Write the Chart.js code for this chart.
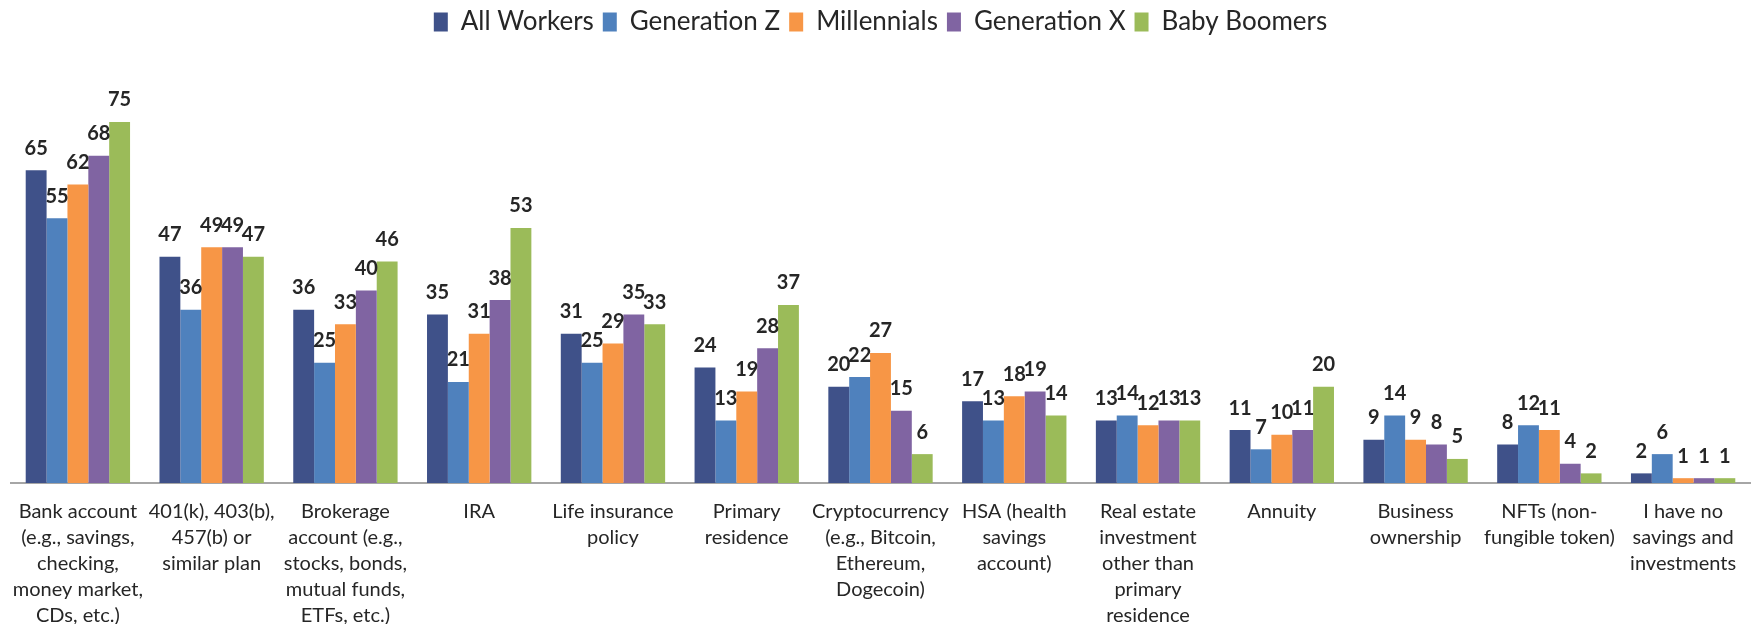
<!DOCTYPE html>
<html>
<head>
<meta charset="utf-8">
<script src="https://cdn.jsdelivr.net/npm/chart.js@4.4.1/dist/chart.umd.min.js"></script>
<style>
  html, body { margin: 0; padding: 0; background: #fff; }
  #wrap { width: 1754px; height: 624px; }
</style>
</head>
<body>
<div id="wrap"><canvas id="savingsChart"></canvas></div>
<script>
const categories = [
    ['Bank account', '(e.g., savings,', 'checking,', 'money market,', 'CDs, etc.)'],
    ['401(k), 403(b),', '457(b) or', 'similar plan'],
    ['Brokerage', 'account (e.g.,', 'stocks, bonds,', 'mutual funds,', 'ETFs, etc.)'],
    ['IRA'],
    ['Life insurance', 'policy'],
    ['Primary', 'residence'],
    ['Cryptocurrency', '(e.g., Bitcoin,', 'Ethereum,', 'Dogecoin)'],
    ['HSA (health', 'savings', 'account)'],
    ['Real estate', 'investment', 'other than', 'primary', 'residence'],
    ['Annuity'],
    ['Business', 'ownership'],
    ['NFTs (non-', 'fungible token)'],
    ['I have no', 'savings and', 'investments']
];

const allWorkers  = [65, 47, 36, 35, 31, 24, 20, 17, 13, 11, 9, 8, 2];
const generationZ = [55, 36, 25, 21, 25, 13, 22, 13, 14, 7, 14, 12, 6];
const millennials = [62, 49, 33, 31, 29, 19, 27, 18, 12, 10, 9, 11, 1];
const generationX = [68, 49, 40, 38, 35, 28, 15, 19, 13, 11, 8, 4, 1];
const babyBoomers = [75, 47, 46, 53, 33, 37, 6, 14, 13, 20, 5, 2, 1];

const FONT = 'Lato, "Open Sans", sans-serif';
const TEXT = '#262626';

// value labels above every bar
const barValues = {
    id: 'barValues',
    afterDatasetsDraw(chart) {
        const ctx = chart.ctx;
        ctx.save();
        ctx.font = 'bold 20px ' + FONT;
        ctx.fillStyle = TEXT;
        ctx.textAlign = 'center';
        ctx.textBaseline = 'middle';
        chart.data.datasets.forEach((ds, i) => {
            chart.getDatasetMeta(i).data.forEach((bar, j) => {
                ctx.fillText(ds.data[j], bar.x, bar.y - 22);
            });
        });
        ctx.restore();
    }
};

window.onload = function() {
    const ctx = document.getElementById('savingsChart').getContext('2d');
    new Chart(ctx, {
        type: 'bar',
        data: {
            labels: categories,
            datasets: [
                { label: 'All Workers',  data: allWorkers,  backgroundColor: '#3F5189' },
                { label: 'Generation Z', data: generationZ, backgroundColor: '#4F81BD' },
                { label: 'Millennials',  data: millennials, backgroundColor: '#F79646' },
                { label: 'Generation X', data: generationX, backgroundColor: '#8064A2' },
                { label: 'Baby Boomers', data: babyBoomers, backgroundColor: '#9BBB59' }
            ]
        },
        options: {
            responsive: true,
            maintainAspectRatio: false,
            animation: false,
            layout: { padding: { left: 11, right: 4, top: 0, bottom: 0 } },
            datasets: {
                bar: { categoryPercentage: 0.78, barPercentage: 1.0 }
            },
            plugins: {
                legend: {
                    position: 'top',
                    labels: {
                        font: { family: FONT, size: 26 },
                        color: TEXT,
                        boxWidth: 14,
                        boxHeight: 19,
                        padding: 9
                    }
                },
                tooltip: { enabled: false }
            },
            scales: {
                x: {
                    grid: { display: false, drawTicks: false },
                    border: { display: true, color: '#A6A6A6', width: 2 },
                    ticks: {
                        color: TEXT,
                        font: { family: FONT, size: 20, lineHeight: 1.3 },
                        maxRotation: 0,
                        autoSkip: false,
                        padding: 16
                    },
                    // fixed label band, and no extra side room for the wide end labels
                    afterFit(scale) {
                        scale.height = 141;
                        scale.paddingLeft = 0;
                        scale.paddingRight = 0;
                    }
                },
                y: {
                    display: false,
                    min: 0,
                    max: 91
                }
            }
        },
        plugins: [barValues]
    });
};
</script>
</body>
</html>
